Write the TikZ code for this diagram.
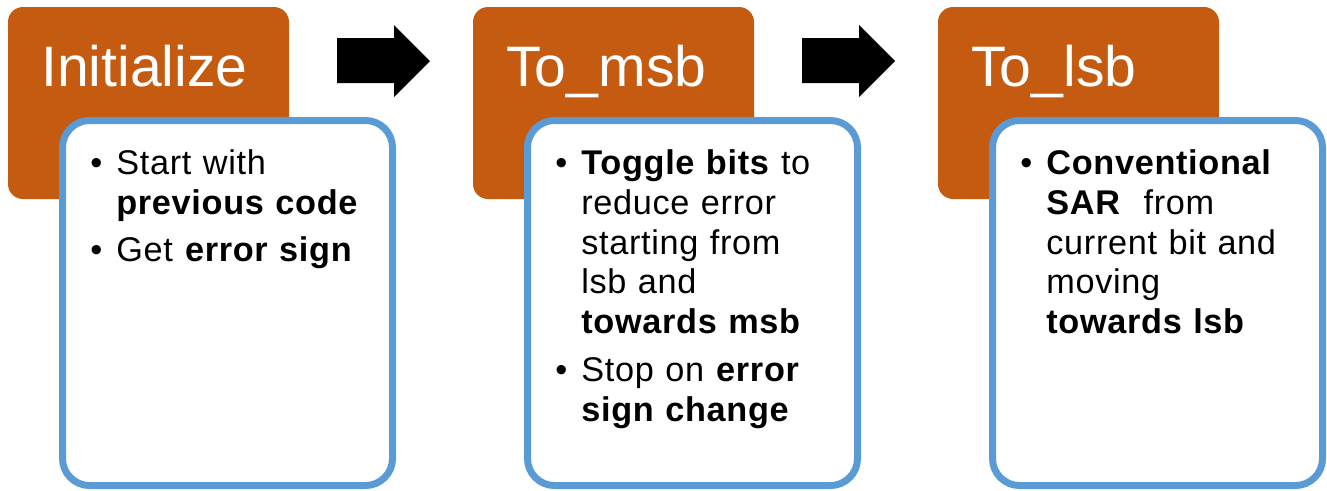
\documentclass[tikz,border=0pt]{standalone}
\usepackage{fontspec}
\setmainfont{Liberation Sans}
\newfontfamily\notefont{Liberation Sans}[LetterSpace=2]
\usepackage{xcolor}
\usetikzlibrary{positioning,calc}
\definecolor{sarorange}{HTML}{C55A11}
\definecolor{sarblue}{HTML}{5B9BD5}
\newcommand{\bitem}[1]{\par\hangindent=0.52cm\hangafter=1\noindent\makebox[0.52cm][l]{\textbullet}#1\par}

\begin{document}
\begin{tikzpicture}[
    node distance=3.68cm,
    stage/.style={rectangle, fill=sarorange, rounded corners=0.3cm, minimum width=5.62cm, minimum height=3.84cm, inner sep=0, outer sep=0},
    title/.style={text=white, font=\fontsize{32.5}{38}\selectfont, inner sep=0, anchor=base west},
    note/.style={rectangle, draw=sarblue, line width=0.14cm, fill=white, rounded corners=0.54cm, minimum width=6.6cm, minimum height=7.3cm, outer sep=0, anchor=north west},
    notetext/.style={text width=5.6cm, align=left, inner sep=0, anchor=north west, font=\notefont\fontsize{19.5}{22.7}\selectfont},
    blockarrow/.style={fill=black}
]
\useasboundingbox (0,0) rectangle (26.54,-9.8);

% stages
\node[stage] (init) at (2.97,-2.06) {};
\node[stage, right=of init] (tomsb) {};
\node[stage, right=of tomsb] (tolsb) {};

\node[title] (initT) at ($(init.north west)+(0.66,-1.58)$) {Initialize};
\node[title] (tomsbT) at ($(tomsb.north west)+(0.66,-1.58)$) {To\_msb};
\node[title] (tolsbT) at ($(tolsb.north west)+(0.66,-1.58)$) {To\_lsb};

% block arrows between stages
\foreach \a in {init, tomsb}
  \fill[blockarrow] ($(\a.north east)+(0.96,-0.62)$) -- ++(1.14,0) -- ++(0,0.26) -- ++(0.72,-0.72) -- ++(-0.72,-0.72) -- ++(0,0.28) -- ++(-1.14,0) -- cycle;

% notes
\node[note] (initN) at ($(init.north west)+(1.09,-2.27)$) {};
\node[note] (tomsbN) at ($(tomsb.north west)+(1.09,-2.27)$) {};
\node[note] (tolsbN) at ($(tolsb.north west)+(1.09,-2.27)$) {};

\node[notetext] (initB) at ($(initN.north west)+(0.55,-0.27)$) {\bitem{Start with\newline\textbf{previous code}}\vspace{4.5pt}\bitem{Get \textbf{error sign}}};
\node[notetext] (tomsbB) at ($(tomsbN.north west)+(0.55,-0.27)$) {\bitem{\textbf{Toggle bits} to\newline reduce error\newline starting from\newline lsb and\newline\textbf{towards msb}}\vspace{4.5pt}\bitem{Stop on \textbf{error}\newline\textbf{sign change}}};
\node[notetext] (tolsbB) at ($(tolsbN.north west)+(0.55,-0.27)$) {\bitem{\textbf{Conventional}\newline\textbf{SAR}\ \ from\newline current bit and\newline moving\newline\textbf{towards lsb}}};
\end{tikzpicture}
\end{document}
